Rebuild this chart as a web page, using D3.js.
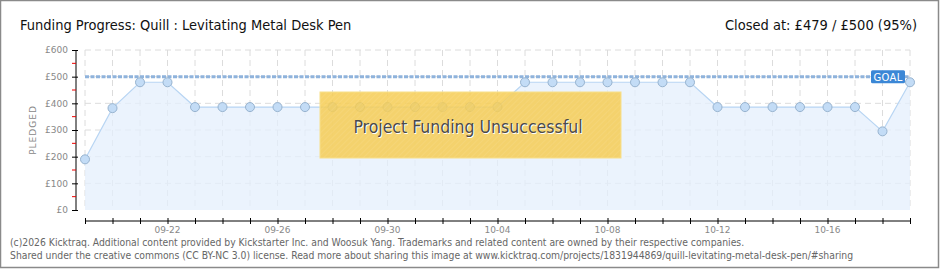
<!DOCTYPE html>
<html>
<head>
<meta charset="utf-8">
<script src="https://cdn.jsdelivr.net/npm/d3@7"></script>
<style>
body { margin: 0; background: #fff; }
svg { display: block; }
</style>
</head>
<body>
<svg id="chart" width="940" height="270"></svg>
<script>
// pledged totals per day
const days = ['2015-09-19','2015-09-20','2015-09-21','2015-09-22','2015-09-23','2015-09-24','2015-09-25','2015-09-26',
	'2015-09-27','2015-09-28','2015-09-29','2015-09-30','2015-10-01','2015-10-02','2015-10-03','2015-10-04',
	'2015-10-05','2015-10-06','2015-10-07','2015-10-08','2015-10-09','2015-10-10','2015-10-11','2015-10-12',
	'2015-10-13','2015-10-14','2015-10-15','2015-10-16','2015-10-17','2015-10-18','2015-10-19']
const pledged = [190, 382, 479, 479, 386, 386, 386, 386, 386, 386, 386, 386, 386, 386, 386, 386,
	479, 479, 479, 479, 479, 479, 479, 386, 386, 386, 386, 386, 386, 295, 479]
const goal = 500
const yTicks = [0, 100, 200, 300, 400, 500, 600]
const yMinor = [50, 150, 250, 350, 450, 550]
const xLabels = ['2015-09-22', '2015-09-26', '2015-09-30', '2015-10-04', '2015-10-08', '2015-10-12', '2015-10-16']

var parse = d3.timeParse('%Y-%m-%d')
var data = days.map((d, i) => ({ date: parse(d), value: pledged[i] }))

var svg = d3.select('#chart')
var x = d3.scaleTime().domain([data[0].date, data[data.length - 1].date]).range([85, 910])
var y = d3.scaleLinear().domain([0, 600]).range([210, 50])

// frame
svg.append('rect').attr('x', 0.5).attr('y', 0.5).attr('width', 938).attr('height', 267)
	.attr('fill', '#fff').attr('stroke', '#8a8a8a').attr('stroke-width', 1.5)

// titles
svg.append('text').attr('x', 20).attr('y', 30).text('Funding Progress: Quill : Levitating Metal Desk Pen')
	.attr('font-family', 'DejaVu Sans Condensed').attr('font-size', 14.5).attr('fill', '#111')
svg.append('text').attr('x', 917).attr('y', 30).attr('text-anchor', 'end').text('Closed at:  £479 /  £500 (95%)')
	.attr('font-family', 'DejaVu Sans Condensed').attr('font-size', 14.5).attr('fill', '#111')

// grid
var grid = svg.append('g').attr('stroke', '#dcdcdc').attr('stroke-dasharray', '6,4')
grid.selectAll('.h').data(yTicks.slice(1)).join('line')
	.attr('x1', 85).attr('x2', 910).attr('y1', d => y(d)).attr('y2', d => y(d))
grid.selectAll('.v').data(data).join('line')
	.attr('x1', d => x(d.date)).attr('x2', d => x(d.date)).attr('y1', 50).attr('y2', 210)

// area + line
svg.append('path').datum(data)
	.attr('d', d3.area().x(d => x(d.date)).y0(y(0)).y1(d => y(d.value)))
	.attr('fill', '#e4effc').attr('opacity', 0.75)
svg.append('path').datum(data)
	.attr('d', d3.line().x(d => x(d.date)).y(d => y(d.value)))
	.attr('fill', 'none').attr('stroke', '#b8d5f3').attr('stroke-width', 1.2)

// goal line
svg.append('line').attr('x1', 85).attr('x2', 910).attr('y1', y(goal)).attr('y2', y(goal))
	.attr('stroke', '#8fb3dc').attr('stroke-width', 3).attr('stroke-dasharray', '4,1.5')

// points
svg.selectAll('.pt').data(data).join('circle')
	.attr('cx', d => x(d.date)).attr('cy', d => y(d.value)).attr('r', 4.5)
	.attr('fill', '#c3dcf6').attr('stroke', '#97b3cf').attr('stroke-width', 1)

// goal tag
var tag = svg.append('g').attr('transform', `translate(871,${y(goal) - 6.5})`)
tag.append('rect').attr('width', 34).attr('height', 13).attr('rx', 1.5).attr('fill', '#3b87d6')
tag.append('text').attr('x', 17).attr('y', 10.5).attr('text-anchor', 'middle').text('GOAL')
	.attr('font-family', 'DejaVu Sans').attr('font-size', 10).attr('fill', '#fff').attr('letter-spacing', 0.3)

// y axis
var yAxis = svg.append('g').attr('transform', 'translate(76,0)')
	.call(d3.axisLeft(y).tickValues(yTicks).tickSize(4).tickFormat(d => '£' + d))
yAxis.select('.domain').attr('d', 'M0,50V210').attr('stroke', '#000')
yAxis.selectAll('.tick line').attr('x1', -4).attr('x2', 2).attr('stroke', '#000')
yAxis.selectAll('text').attr('x', -8).attr('font-family', 'DejaVu Sans').attr('font-size', 9).attr('fill', '#888')
yAxis.selectAll('.minor').data(yMinor).join('line').attr('class', 'minor')
	.attr('x1', -4).attr('x2', 0).attr('y1', d => y(d)).attr('y2', d => y(d)).attr('stroke', '#e00')
svg.append('text').attr('transform', 'translate(36,130) rotate(-90)').attr('text-anchor', 'middle')
	.text('PLEDGED').attr('font-family', 'DejaVu Sans').attr('font-size', 9).attr('fill', '#888').attr('letter-spacing', 1)

// x axis
var xAxis = svg.append('g').attr('transform', 'translate(0,221)')
	.call(d3.axisBottom(x).tickValues(data.map(d => d.date)).tickSize(3).tickFormat(() => ''))
xAxis.select('.domain').attr('d', 'M85,0H910').attr('stroke', '#000')
xAxis.selectAll('.tick line').attr('y1', -3).attr('y2', 3).attr('stroke', '#000')
svg.append('g').selectAll('text').data(xLabels).join('text')
	.attr('x', d => x(parse(d))).attr('y', 233).attr('text-anchor', 'middle')
	.text(d => d.slice(5)).attr('font-family', 'DejaVu Sans').attr('font-size', 9).attr('fill', '#888')

// unsuccessful banner
var pat = svg.append('defs').append('pattern').attr('id', 'stripes').attr('width', 4).attr('height', 4)
	.attr('patternUnits', 'userSpaceOnUse').attr('patternTransform', 'rotate(45)')
pat.append('rect').attr('width', 4).attr('height', 4).attr('fill', 'rgba(246,204,84,0.85)')
pat.append('line').attr('x1', 0).attr('x2', 0).attr('y1', 0).attr('y2', 4).attr('stroke', 'rgba(255,255,255,0.08)').attr('stroke-width', 2)
svg.append('rect').attr('x', 320).attr('y', 92).attr('width', 301).attr('height', 66)
	.attr('fill', 'url(#stripes)').attr('stroke', '#f8df8a').attr('stroke-width', 1)
svg.append('text').attr('x', 469).attr('y', 134).attr('text-anchor', 'middle').text('Project Funding Unsuccessful')
	.attr('font-family', 'DejaVu Sans Condensed').attr('font-size', 17.5).attr('fill', '#fff')
svg.append('text').attr('x', 468).attr('y', 133).attr('text-anchor', 'middle').text('Project Funding Unsuccessful')
	.attr('font-family', 'DejaVu Sans Condensed').attr('font-size', 17.5).attr('fill', '#4a4a4a')

// footer
var foot = svg.append('g').attr('font-family', 'DejaVu Sans Condensed').attr('font-size', 10.3).attr('fill', '#666')
foot.append('text').attr('x', 10).attr('y', 246)
	.text('(c)2026 Kicktraq. Additional content provided by Kickstarter Inc. and Woosuk Yang. Trademarks and related content are owned by their respective companies.')
foot.append('text').attr('x', 10).attr('y', 259)
	.text('Shared under the creative commons (CC BY-NC 3.0) license. Read more about sharing this image at www.kicktraq.com/projects/1831944869/quill-levitating-metal-desk-pen/#sharing')
</script>
</body>
</html>
